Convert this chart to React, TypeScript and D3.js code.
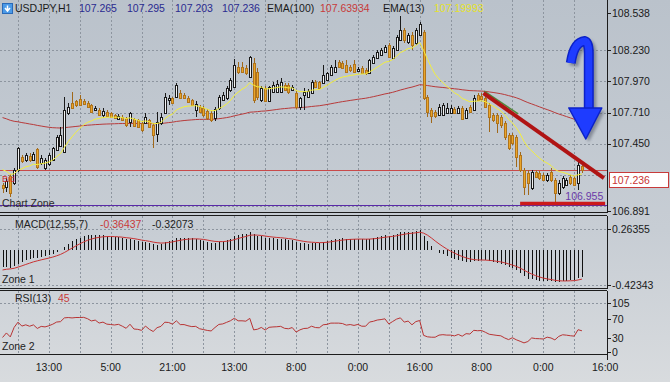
import React from "react";
import * as d3 from "d3";

const opens = [
  107.107,107.090,107.182,107.123,107.232,107.340,107.315,107.348,107.315,107.406,
  107.290,107.248,107.282,107.315,107.398,107.431,107.381,107.706,107.789,107.806,
  107.822,107.806,107.789,107.772,107.731,107.731,107.689,107.714,107.706,107.689,
  107.656,107.673,107.664,107.631,107.656,107.648,107.623,107.623,107.648,107.606,
  107.531,107.623,107.706,107.814,107.831,107.839,107.872,107.856,107.831,107.814,
  107.731,107.756,107.747,107.722,107.706,107.664,107.747,107.814,107.831,107.897,
  107.922,108.089,108.089,108.080,108.005,108.122,108.047,107.814,107.914,107.806,
  107.881,107.881,107.881,107.939,107.939,107.897,107.872,107.756,107.856,107.839,
  107.872,107.964,107.964,107.955,107.980,108.022,108.047,108.130,108.122,108.105,
  108.089,108.114,108.055,108.080,108.064,108.039,108.122,108.163,108.188,108.213,
  108.272,108.163,108.230,108.313,108.396,108.297,108.355,108.288,108.355,108.380,
  107.839,107.731,107.714,107.689,107.689,107.706,107.706,107.739,107.706,107.747,
  107.664,107.756,107.731,107.856,107.847,107.831,107.772,107.689,107.689,107.673,
  107.623,107.523,107.523,107.506,107.356,107.232,107.207,107.082,107.215,107.207,
  107.190,107.148,107.215,107.148,107.040,107.090,107.107,107.173,107.165,107.123,
  107.265,
];
const highs = [
  107.123,107.165,107.198,107.248,107.423,107.356,107.373,107.373,107.381,107.415,
  107.356,107.331,107.373,107.423,107.523,107.589,107.839,107.789,107.881,107.814,
  107.856,107.822,107.806,107.781,107.764,107.747,107.747,107.731,107.714,107.698,
  107.698,107.689,107.673,107.714,107.664,107.656,107.631,107.706,107.656,107.623,
  107.714,107.706,107.872,107.856,107.839,107.955,107.897,107.872,107.847,107.822,
  107.806,107.772,107.764,107.739,107.722,107.756,107.856,107.881,107.930,107.997,
  108.155,108.130,108.130,108.105,108.180,108.163,108.080,107.930,107.930,107.930,
  107.964,107.980,107.997,107.955,107.955,107.939,107.889,107.839,107.914,107.906,
  107.980,107.980,107.972,108.105,108.047,108.105,108.147,108.147,108.138,108.147,
  108.105,108.147,108.089,108.097,108.080,108.155,108.188,108.230,108.247,108.272,
  108.288,108.263,108.355,108.513,108.413,108.371,108.380,108.413,108.463,108.396,
  107.856,107.747,107.731,107.781,107.789,107.789,107.772,107.756,107.764,107.764,
  107.747,107.772,107.856,107.872,107.872,107.847,107.789,107.706,107.706,107.689,
  107.639,107.539,107.539,107.523,107.381,107.248,107.232,107.232,107.232,107.223,
  107.207,107.207,107.248,107.165,107.148,107.182,107.165,107.190,107.182,107.315,
  107.295,
];
const lows = [
  107.040,107.049,107.007,107.107,107.215,107.290,107.298,107.298,107.307,107.240,
  107.273,107.232,107.265,107.307,107.390,107.423,107.373,107.689,107.739,107.756,
  107.764,107.772,107.747,107.706,107.722,107.681,107.664,107.673,107.664,107.656,
  107.648,107.639,107.589,107.589,107.589,107.581,107.548,107.614,107.581,107.415,
  107.465,107.606,107.698,107.772,107.781,107.831,107.822,107.822,107.789,107.764,
  107.673,107.706,107.673,107.648,107.631,107.639,107.731,107.806,107.814,107.881,
  107.914,108.030,108.039,108.022,107.997,107.789,107.814,107.797,107.797,107.797,
  107.872,107.872,107.872,107.889,107.864,107.889,107.739,107.731,107.731,107.831,
  107.864,107.914,107.906,107.947,107.972,108.014,108.039,108.080,108.072,108.039,
  108.047,108.039,108.047,108.030,108.022,108.030,108.114,108.155,108.180,108.205,
  108.163,108.155,108.222,108.305,108.288,108.280,108.230,108.272,108.347,107.814,
  107.673,107.623,107.664,107.681,107.681,107.698,107.698,107.698,107.698,107.648,
  107.656,107.706,107.722,107.806,107.814,107.747,107.548,107.631,107.539,107.581,
  107.481,107.398,107.440,107.257,107.215,107.024,107.024,107.065,107.165,107.148,
  107.140,107.132,107.132,106.955,107.024,107.073,107.098,107.107,107.098,107.065,
  107.203,
];
const closes = [
  107.082,107.140,107.040,107.232,107.415,107.307,107.356,107.315,107.365,107.257,
  107.331,107.315,107.356,107.415,107.506,107.523,107.731,107.756,107.747,107.772,
  107.772,107.781,107.756,107.714,107.747,107.689,107.722,107.681,107.673,107.664,
  107.681,107.648,107.606,107.706,107.598,107.589,107.564,107.673,107.589,107.523,
  107.631,107.673,107.839,107.831,107.789,107.939,107.831,107.831,107.797,107.772,
  107.781,107.714,107.689,107.664,107.648,107.739,107.839,107.856,107.914,107.980,
  108.105,108.047,108.047,108.039,108.172,107.814,107.839,107.914,107.806,107.922,
  107.939,107.947,107.964,107.897,107.881,107.922,107.756,107.831,107.881,107.889,
  107.964,107.922,107.914,108.022,108.039,108.089,108.089,108.089,108.080,108.047,
  108.064,108.047,108.072,108.039,108.039,108.147,108.172,108.213,108.230,108.255,
  108.172,108.247,108.338,108.396,108.313,108.355,108.272,108.396,108.446,107.831,
  107.714,107.681,107.681,107.756,107.772,107.747,107.747,107.706,107.747,107.656,
  107.731,107.714,107.831,107.814,107.822,107.756,107.673,107.648,107.623,107.606,
  107.506,107.415,107.456,107.340,107.232,107.090,107.123,107.215,107.173,107.165,
  107.148,107.190,107.148,107.040,107.123,107.165,107.148,107.123,107.107,107.273,
  107.236,
];

const timeLabels = ["13:00", "5:00", "21:00", "13:00", "8:00", "0:00", "16:00", "8:00", "0:00", "16:00"];
const timeLabelBars = [12, 28, 44, 60, 76, 92, 108, 124, 140, 156];
const gridBars = [4, 12, 20, 28, 36, 44, 52, 60, 68, 76, 84, 92, 100, 108, 116, 124, 132, 140, 148];
const priceTickLabels = ["108.538", "108.230", "107.970", "107.710", "107.450", "106.891"];
const priceTicks = [108.538, 108.23, 107.97, 107.71, 107.45, 106.891];
const priceGrid = [108.23, 107.97, 107.71, 107.45, 107.19, 106.93];
const macdTicks = [0.26355, -0.42343];
const macdTickLabels = ["0.26355", "-0.42343"];
const rsiTicks = [105, 70, 30, 0];

const symbol = "USDJPY,H1";
const ema100Text = "107.63934";
const ema13Text = "107.19993";
const macdMainText = "-0.36437";
const macdSignalText = "-0.32073";
const rsiText = "45";
const lastPrice = 107.236;

// indicator seeds (state before the first visible bar)
const ema100Seed = 107.68;
const ema13Seed = 107.26;
const ema12Seed = 107.2;
const ema55Seed = 107.4;
const signalSeed = -0.25;
const rsiSeedGain = 0.01;
const rsiSeedLoss = 0.02;

// drawn objects, in (bar, price)
const trendLine: [number, number][] = [[124.5, 107.872], [155.7, 107.165]];
const greenLine: [number, number][] = [[124.7, 107.889], [133.5, 107.698]];
const supportLine: [number, number][] = [[134, 106.953], [156, 106.953]];
const lowLabel = "106.955";
const lowLabelPos: [number, number] = [145.7, 106.983];
const zoneLevel = 106.938;
const arrowTip: [number, number] = [151.0, 107.49];

const FONT = "'Liberation Sans', Arial, sans-serif";

function ema(arr: number[], period: number, seed: number) {
  const a = 2 / (period + 1);
  let p = seed;
  return arr.map((v) => (p = p + a * (v - p)));
}

export default function App() {
  const R = 607;
  const x = d3.scaleLinear().domain([0, 156]).range([2.55, 2.55 + 156 * 3.8625]);
  const yP = d3.scaleLinear().domain([106.891, 108.538]).range([211, 13]);
  const yM = d3.scaleLinear().domain([-0.42343, 0.26355]).range([285, 229]);
  const yR = d3.scaleLinear().domain([0, 105]).range([352, 303]);

  const ema100 = ema(closes, 100, ema100Seed);
  const ema13 = ema(closes, 13, ema13Seed);
  const e12 = ema(closes, 12, ema12Seed);
  const e55 = ema(closes, 55, ema55Seed);
  const macd = e12.map((v, i) => v - e55[i]);
  const signal = ema(macd, 7, signalSeed);
  const rsi: number[] = [];
  let ag = rsiSeedGain;
  let al = rsiSeedLoss;
  closes.forEach((c, i) => {
    const prev = i === 0 ? opens[0] : closes[i - 1];
    const ch = c - prev;
    ag = (ag * 12 + Math.max(ch, 0)) / 13;
    al = (al * 12 + Math.max(-ch, 0)) / 13;
    rsi.push(100 - 100 / (1 + ag / al));
  });

  const lineP = d3.line<number>().x((_, i) => x(i)).y((d) => yP(d));
  const lineM = d3.line<number>().x((_, i) => x(i)).y((d) => yM(d));
  const lineR = d3.line<number>().x((_, i) => x(i)).y((d) => yR(d));

  const grid = "#8d959f";
  const frame = "#1c1c1c";

  const [tx, ty] = [x(arrowTip[0]), yP(arrowTip[1])];
  const shaft = `M${tx - 15},${ty - 76} Q${tx - 12},${ty - 97} ${tx - 1},${ty - 98} Q${tx + 3},${ty - 97} ${tx + 3},${ty - 86} L${tx + 3},${ty - 27}`;
  const head = `M${tx - 17},${ty - 31} L${tx + 16},${ty - 31} L${tx},${ty} Z`;

  return (
    <div style={{ position: "absolute", left: 0, top: 0 }}>
      <svg width={670} height={382} style={{ display: "block" }} fontFamily={FONT}>
        <defs>
          <linearGradient id="bg" x1="0" y1="0" x2="0" y2="1">
            <stop offset="0" stopColor="#bac2cb" />
            <stop offset="0.6" stopColor="#c7cdd4" />
            <stop offset="1" stopColor="#d8dbde" />
          </linearGradient>
          <clipPath id="cMain"><rect x={0} y={0} width={R} height={212} /></clipPath>
          <clipPath id="cMacd"><rect x={0} y={216} width={R} height={72} /></clipPath>
          <clipPath id="cRsi"><rect x={0} y={291} width={R} height={63} /></clipPath>
          <filter id="blur" x="-20%" y="-20%" width="140%" height="140%">
            <feGaussianBlur stdDeviation="1.5" />
          </filter>
        </defs>
        <rect x={0} y={0} width={670} height={382} fill="url(#bg)" />

        {/* grids */}
        <g stroke={grid} strokeDasharray="2,2" shapeRendering="crispEdges">
          {gridBars.map((b) => (
            <g key={b}>
              <line x1={Math.round(x(b)) + 0.5} x2={Math.round(x(b)) + 0.5} y1={0} y2={212} />
              <line x1={Math.round(x(b)) + 0.5} x2={Math.round(x(b)) + 0.5} y1={216} y2={288} />
              <line x1={Math.round(x(b)) + 0.5} x2={Math.round(x(b)) + 0.5} y1={291} y2={354} />
            </g>
          ))}
          {priceGrid.map((p) => (
            <line key={p} x1={0} x2={R} y1={Math.round(yP(p)) + 0.5} y2={Math.round(yP(p)) + 0.5} />
          ))}
          {macdTicks.map((p) => (
            <line key={p} x1={0} x2={R} y1={Math.round(yM(p)) + 0.5} y2={Math.round(yM(p)) + 0.5} />
          ))}
          <line x1={0} x2={R} y1={Math.round(yR(105)) + 0.5} y2={Math.round(yR(105)) + 0.5} />
        </g>

        {/* main panel */}
        <g clipPath="url(#cMain)">
          <line x1={0} x2={R} y1={Math.round(yP(lastPrice)) + 0.5} y2={Math.round(yP(lastPrice)) + 0.5} stroke="#c84a4a" strokeWidth={1} />
          <line x1={0} x2={R} y1={Math.round(yP(zoneLevel)) + 0.5} y2={Math.round(yP(zoneLevel)) + 0.5} stroke="#5a2aa8" strokeWidth={1} />
          <path d={lineP(ema100) || ""} fill="none" stroke="#b83a3a" strokeWidth={1} />
          {closes.map((c, i) => {
            const o = opens[i];
            const bull = c >= o;
            const cx = Math.round(x(i));
            const top = Math.round(yP(Math.max(o, c)));
            const bot = Math.round(yP(Math.min(o, c)));
            return (
              <g key={i} shapeRendering="crispEdges">
                <line x1={cx + 0.5} x2={cx + 0.5} y1={yP(highs[i])} y2={yP(lows[i])} stroke={bull ? "#1a1a1a" : "#a0681a"} />
                <rect x={cx - 0.5} y={top + 0.5} width={2} height={Math.max(1, bot - top)} fill={bull ? "#f2f2f2" : "#eaa52a"} stroke={bull ? "#1a1a1a" : "#b0741c"} />
              </g>
            );
          })}
          <path d={lineP(ema13) || ""} fill="none" stroke="#f4f03c" strokeWidth={1} />
          <line x1={x(greenLine[0][0])} y1={yP(greenLine[0][1])} x2={x(greenLine[1][0])} y2={yP(greenLine[1][1])} stroke="#4f8a3a" strokeWidth={1.5} />
          <line x1={x(trendLine[0][0])} y1={yP(trendLine[0][1])} x2={x(trendLine[1][0])} y2={yP(trendLine[1][1])} stroke="#b01414" strokeWidth={4} />
          <line x1={x(supportLine[0][0])} y1={yP(supportLine[0][1])} x2={x(supportLine[1][0])} y2={yP(supportLine[1][1])} stroke="#cc1a1a" strokeWidth={3.5} />
          <text x={x(lowLabelPos[0])} y={yP(lowLabelPos[1])} fontSize={10.5} fill="#6a3aa8">{lowLabel}</text>
          <text x={2} y={182} fontSize={9} fill="#d03030">Bid</text>
          <text x={2} y={207} fontSize={10.5} fill="#2a2a2a">Chart Zone</text>
          {/* arrow */}
          <g transform="translate(3,3)" opacity={0.45} filter="url(#blur)">
            <path d={shaft} fill="none" stroke="#3a4050" strokeWidth={9} />
            <path d={head} fill="#3a4050" />
          </g>
          <path d={shaft} fill="none" stroke="#0c22c8" strokeWidth={10} />
          <path d={shaft} fill="none" stroke="#1e3cff" strokeWidth={7} />
          <path d={head} fill="#1e3cff" stroke="#0c22c8" strokeWidth={1.5} strokeLinejoin="round" />
        </g>

        {/* MACD panel */}
        <g clipPath="url(#cMacd)">
          {macd.map((m, i) => (
            <line key={i} x1={Math.round(x(i)) + 0.5} x2={Math.round(x(i)) + 0.5} y1={yM(0)} y2={yM(m)} stroke="#111" strokeWidth={1} shapeRendering="crispEdges" />
          ))}
          <path d={lineM(signal) || ""} fill="none" stroke="#c83232" strokeWidth={1} />
        </g>
        <text x={15} y={228} fontSize={10.5} fill="#222">MACD(12,55,7)</text>
        <text x={100} y={228} fontSize={10.5} fill="#c83a3a">{macdMainText}</text>
        <text x={152} y={228} fontSize={10.5} fill="#222">{macdSignalText}</text>
        <text x={2} y={283} fontSize={10.5} fill="#222">Zone 1</text>

        {/* RSI panel */}
        <g clipPath="url(#cRsi)">
          <path d={lineR(rsi) || ""} fill="none" stroke="#b83434" strokeWidth={1} />
        </g>
        <text x={15} y={302} fontSize={10.5} fill="#222">RSI(13)</text>
        <text x={58} y={302} fontSize={10.5} fill="#c83a3a">{rsiText}</text>
        <text x={2} y={350} fontSize={10.5} fill="#222">Zone 2</text>

        {/* frames */}
        <g stroke={frame} strokeWidth={1} shapeRendering="crispEdges">
          <line x1={0} x2={R} y1={212.5} y2={212.5} />
          <line x1={0} x2={R} y1={215.5} y2={215.5} />
          <line x1={0} x2={R} y1={288.5} y2={288.5} />
          <line x1={0} x2={R} y1={290.5} y2={290.5} />
          <line x1={0} x2={R} y1={354.5} y2={354.5} />
          <line x1={R + 0.5} x2={R + 0.5} y1={0} y2={212.5} />
          <line x1={R + 0.5} x2={R + 0.5} y1={215.5} y2={288.5} />
          <line x1={R + 0.5} x2={R + 0.5} y1={290.5} y2={360} />
        </g>

        {/* right axis */}
        <g fontSize={10.5} fill="#1a1a1a">
          {priceTicks.map((p, i) => (
            <g key={p}>
              <line x1={R} x2={R + 4} y1={Math.round(yP(p)) + 0.5} y2={Math.round(yP(p)) + 0.5} stroke={frame} />
              <text x={R + 5} y={yP(p)} dy="0.35em">{priceTickLabels[i]}</text>
            </g>
          ))}
          {macdTicks.map((p, i) => (
            <g key={p}>
              <line x1={R} x2={R + 4} y1={Math.round(yM(p)) + 0.5} y2={Math.round(yM(p)) + 0.5} stroke={frame} />
              <text x={R + 5} y={yM(p)} dy="0.35em">{macdTickLabels[i]}</text>
            </g>
          ))}
          {rsiTicks.map((p) => (
            <g key={p}>
              <line x1={R} x2={R + 4} y1={Math.round(yR(p)) + 0.5} y2={Math.round(yR(p)) + 0.5} stroke={frame} />
              <text x={R + 5} y={yR(p)} dy="0.35em">{p}</text>
            </g>
          ))}
        </g>
        <rect x={609.5} y={Math.round(yP(lastPrice)) + 2.5} width={59} height={15} fill="#ffffff" stroke="#c83a3a" />
        <text x={612} y={Math.round(yP(lastPrice)) + 10} dy="0.35em" fontSize={10.5} fill="#c83232">{lastPrice.toFixed(3)}</text>

        {/* time axis */}
        <g fontSize={10.5} fill="#1a1a1a" textAnchor="middle">
          {timeLabels.map((t, i) => (
            <text key={i} x={x(timeLabelBars[i])} y={371}>{t}</text>
          ))}
        </g>

        {/* header */}
        <g>
          <rect x={2.5} y={3.5} width={10} height={10} fill="#4a9ae8" stroke="#2a6ab8" />
          <path d="M7.5,5.5 L7.5,10 M5,8 L7.5,11 L10,8" stroke="#ffffff" strokeWidth={1.5} fill="none" />
        </g>
        <g fontSize={10.5}>
          <text x={15} y={12} fill="#1a1a1a">{symbol}</text>
          <text x={79} y={12} fill="#2a2a90">{opens[opens.length - 1].toFixed(3)}</text>
          <text x={127} y={12} fill="#2a2a90">{highs[highs.length - 1].toFixed(3)}</text>
          <text x={175} y={12} fill="#2a2a90">{lows[lows.length - 1].toFixed(3)}</text>
          <text x={222} y={12} fill="#2a2a90">{closes[closes.length - 1].toFixed(3)}</text>
          <text x={267} y={12} fill="#1a1a1a">EMA(100)</text>
          <text x={320} y={12} fill="#c83a3a">{ema100Text}</text>
          <text x={383} y={12} fill="#1a1a1a">EMA(13)</text>
          <text x={434} y={12} fill="#e6e22a">{ema13Text}</text>
        </g>
      </svg>
    </div>
  );
}
